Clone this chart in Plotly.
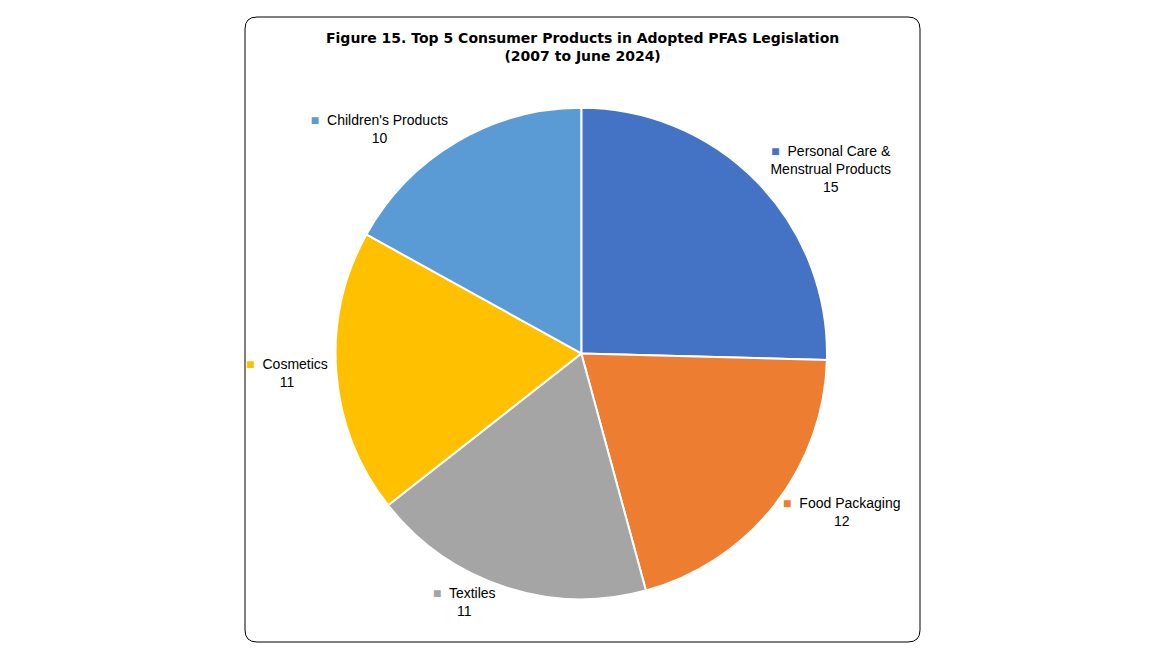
import plotly.graph_objects as go

labels = ["Personal Care &<br>Menstrual Products", "Food Packaging", "Textiles", "Cosmetics", "Children's Products"]
values = [15, 12, 11, 11, 10]
colors = ["#4472C4", "#ED7D31", "#A5A5A5", "#FFC000", "#5B9BD5"]

W, H = 1170, 658
OFF = 8  # page offset in the screenshot

fig = go.Figure(go.Pie(
    labels=labels,
    values=values,
    customdata=colors,
    sort=False,
    direction="clockwise",
    rotation=0,
    marker=dict(colors=colors, line=dict(color="white", width=2)),
    textposition="outside",
    texttemplate='<span style="color:%{customdata}">■</span>  %{label}<br>%{value}',
    textfont=dict(family="Liberation Sans", size=14, color="#000000"),
    showlegend=False,
    hoverinfo="label+value",
    domain=dict(x=[0.28, 0.70], y=[0.10, 0.85]),
))

# rounded chart border
x0, x1 = (245 - OFF) / W, (920 - OFF) / W
y0, y1 = 1 - (642 - OFF) / H, 1 - (17 - OFF) / H
rx, ry = 12 / W, 12 / H
path = (f"M {x0+rx},{y0} L {x1-rx},{y0} Q {x1},{y0} {x1},{y0+ry} "
        f"L {x1},{y1-ry} Q {x1},{y1} {x1-rx},{y1} L {x0+rx},{y1} "
        f"Q {x0},{y1} {x0},{y1-ry} L {x0},{y0+ry} Q {x0},{y0} {x0+rx},{y0} Z")

fig.update_layout(
    width=W,
    height=H,
    margin=dict(l=0, r=0, t=0, b=0),
    paper_bgcolor="white",
    shapes=[dict(type="path", xref="paper", yref="paper", path=path,
                 line=dict(color="#000000", width=1))],
    annotations=[dict(
        text="<b>Figure 15. Top 5 Consumer Products in Adopted PFAS Legislation<br>(2007 to June 2024)</b>",
        x=(582 - OFF) / W, y=1 - (28 - OFF) / H, xref="paper", yref="paper",
        xanchor="center", yanchor="top", showarrow=False,
        font=dict(family="DejaVu Sans", size=14, color="#000000"),
    )],
)

fig.write_html("out.html")
